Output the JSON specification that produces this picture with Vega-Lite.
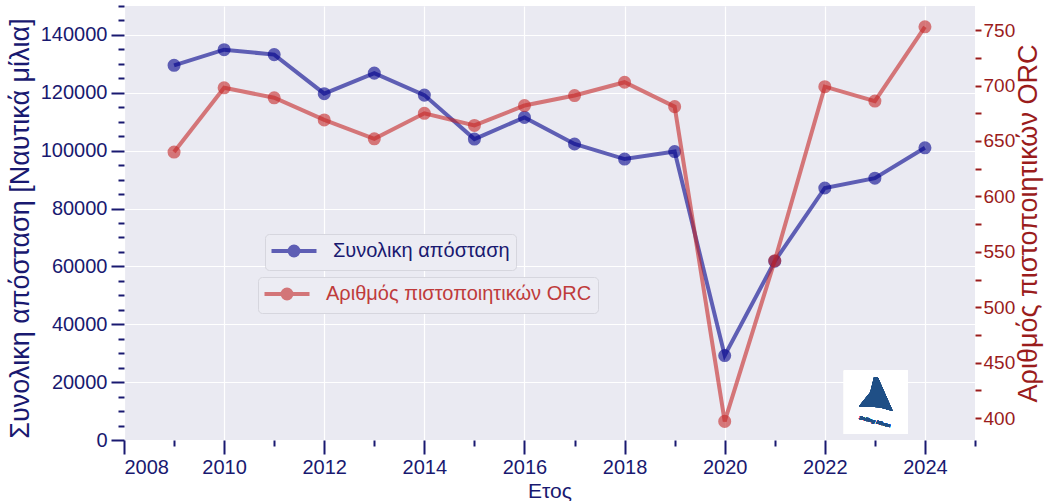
{
  "$schema": "https://vega.github.io/schema/vega-lite/v6.json",
  "width": 851,
  "height": 434,
  "autosize": "none",
  "padding": {"left": 124, "top": 6, "right": 73, "bottom": 61},
  "background": "white",
  "config": {
    "font": "Liberation Sans",
    "view": {"fill": "#eaeaf2", "stroke": null},
    "legend": {"orient": "none", "title": null, "labelFontSize": 20, "labelFont": "Liberation Sans", "padding": 6, "cornerRadius": 4, "fillColor": "#ececf3", "strokeColor": "#d6d6de", "strokeWidth": 1, "symbolSize": 324, "symbolOffset": 12, "labelOffset": 28, "symbolType": "M-2.5,0L2.5,0M0.5,0A0.5,0.5,0,1,1,-0.5,0A0.5,0.5,0,1,1,0.5,0Z", "symbolStrokeWidth": 4, "labelLimit": 400}
  },
  "data": {
    "values": [
      {"year": 2009, "dist": 129500, "orc": 640},
      {"year": 2010, "dist": 134900, "orc": 698},
      {"year": 2011, "dist": 133200, "orc": 689},
      {"year": 2012, "dist": 119700, "orc": 669},
      {"year": 2013, "dist": 126800, "orc": 652},
      {"year": 2014, "dist": 119200, "orc": 675},
      {"year": 2015, "dist": 104000, "orc": 664},
      {"year": 2016, "dist": 111500, "orc": 682},
      {"year": 2017, "dist": 102300, "orc": 691},
      {"year": 2018, "dist": 97100, "orc": 703},
      {"year": 2019, "dist": 99700, "orc": 681},
      {"year": 2020, "dist": 29200, "orc": 397},
      {"year": 2021, "dist": 61800, "orc": 542},
      {"year": 2022, "dist": 87100, "orc": 699},
      {"year": 2023, "dist": 90500, "orc": 686},
      {"year": 2024, "dist": 101000, "orc": 753}
    ]
  },
  "encoding": {
    "x": {
      "field": "year", "type": "quantitative",
      "scale": {"domain": [2008, 2025], "nice": false, "zero": false},
      "axis": {
        "title": "Ετος", "titleFontSize": 21, "titleFontWeight": "normal", "titleColor": "#191970", "titleBaseline": "alphabetic", "titleY": 57,
        "values": [2008, 2009, 2010, 2011, 2012, 2013, 2014, 2015, 2016, 2017, 2018, 2019, 2020, 2021, 2022, 2023, 2024, 2025],
        "format": "d",
        "labelExpr": "datum.value % 2 === 0 ? datum.label : ''",
        "labelOverlap": false,
        "labelFontSize": 20, "labelColor": "#191970", "labelPadding": 3,
        "tickColor": "#191970", "tickWidth": 2,
        "tickSize": {"condition": {"test": "datum.value % 2 === 0", "value": 14}, "value": 6},
        "domain": false,
        "grid": true, "gridColor": "white", "gridWidth": 1.2,
        "gridOpacity": {"condition": {"test": "datum.value % 2 === 0", "value": 1}, "value": 0}
      }
    }
  },
  "layer": [
    {
      "encoding": {
        "y": {
          "field": "dist", "type": "quantitative",
          "scale": {"domain": [0, 150000], "nice": false},
          "axis": {
            "orient": "left",
            "title": "Συνολικη απόσταση [Ναυτικά μίλια]", "titleFontSize": 27, "titleFontWeight": "normal", "titleColor": "#191970", "titlePadding": 6, "titleY": 222,
            "values": [0, 5000, 10000, 15000, 20000, 25000, 30000, 35000, 40000, 45000, 50000, 55000, 60000, 65000, 70000, 75000, 80000, 85000, 90000, 95000, 100000, 105000, 110000, 115000, 120000, 125000, 130000, 135000, 140000, 145000, 150000],
            "format": "d",
            "labelExpr": "datum.value % 20000 === 0 ? datum.label : ''",
            "labelOverlap": false,
            "labelFontSize": 20, "labelColor": "#191970", "labelPadding": 4,
            "tickColor": "#191970", "tickWidth": 2,
            "tickSize": {"condition": {"test": "datum.value % 20000 === 0", "value": 13}, "value": 6},
            "domain": false,
            "grid": true, "gridColor": "white", "gridWidth": 1.2,
            "gridOpacity": {"condition": {"test": "datum.value % 20000 === 0", "value": 1}, "value": 0}
          }
        }
      },
      "layer": [
        {
          "mark": {"type": "rect", "color": "white"},
          "encoding": {
            "x": {"datum": 2022.38, "type": "quantitative"},
            "x2": {"datum": 2023.66},
            "y": {"datum": 24000, "type": "quantitative"},
            "y2": {"datum": 2100}
          }
        },
        {
          "mark": {"type": "point", "filled": true, "color": "#1f4f86", "shape": "M-0.1,-1L0.1,-1L0.9,0.8L0.2,0.6L-0.9,0.55L-0.3,-0.2Z", "size": 1400, "opacity": 1},
          "encoding": {
            "x": {"datum": 2023.02, "type": "quantitative"},
            "y": {"datum": 15200, "type": "quantitative"}
          }
        },
        {
          "mark": {"type": "text", "text": "Sailing Minoa", "fontSize": 5, "color": "#1f4f86", "angle": 15, "fontStyle": "italic", "fontWeight": "bold"},
          "encoding": {
            "x": {"datum": 2023.0, "type": "quantitative"},
            "y": {"datum": 6500, "type": "quantitative"}
          }
        },
        {
          "mark": {"type": "line", "strokeWidth": 4, "opacity": 0.6},
          "encoding": {
            "color": {"datum": "Συνολικη απόσταση", "type": "nominal", "scale": {"range": ["#00008b"]},
              "legend": {"legendX": 141, "legendY": 228, "labelColor": "#191970",
                "encode": {"symbols": {"update": {"fill": {"value": "#00008b"}, "stroke": {"value": "#00008b"}, "opacity": {"value": 0.6}, "strokeWidth": {"value": 4}}}}}}
          }
        },
        {
          "mark": {"type": "point", "filled": true, "size": 170, "opacity": 0.6},
          "encoding": {
            "color": {"datum": "Συνολικη απόσταση", "type": "nominal"}
          }
        }
      ]
    },
    {
      "encoding": {
        "y": {
          "field": "orc", "type": "quantitative",
          "scale": {"domain": [380.2, 771.8], "nice": false, "zero": false},
          "axis": {
            "orient": "right",
            "title": "Αριθμός πιστοποιητικών ORC", "titleFontSize": 27, "titleFontWeight": "normal", "titleColor": "#9a1c1c", "titleAngle": 270, "titleBaseline": "top", "titlePadding": 1,
            "values": [400, 425, 450, 475, 500, 525, 550, 575, 600, 625, 650, 675, 700, 725, 750],
            "format": "d",
            "labelExpr": "datum.value % 50 === 0 ? datum.label : ''",
            "labelOverlap": false,
            "labelFontSize": 19, "labelColor": "#9a1c1c", "labelPadding": 2,
            "tickColor": "#9a1c1c", "tickWidth": 2, "tickSize": 6,
            "domain": false, "grid": false
          }
        }
      },
      "layer": [
        {
          "mark": {"type": "line", "strokeWidth": 4, "opacity": 0.6},
          "encoding": {
            "color": {"datum": "Αριθμός πιστοποιητικών ORC", "type": "nominal", "scale": {"range": ["#c42727"]},
              "legend": {"legendX": 134, "legendY": 271, "labelColor": "#bf3b3b",
                "encode": {"symbols": {"update": {"fill": {"value": "#c42727"}, "stroke": {"value": "#c42727"}, "opacity": {"value": 0.6}, "strokeWidth": {"value": 4}}}}}}
          }
        },
        {
          "mark": {"type": "point", "filled": true, "size": 170, "opacity": 0.6},
          "encoding": {
            "color": {"datum": "Αριθμός πιστοποιητικών ORC", "type": "nominal"}
          }
        }
      ]
    }
  ],
  "resolve": {"scale": {"y": "independent", "color": "independent"}, "axis": {"y": "independent"}, "legend": {"color": "independent"}}
}
